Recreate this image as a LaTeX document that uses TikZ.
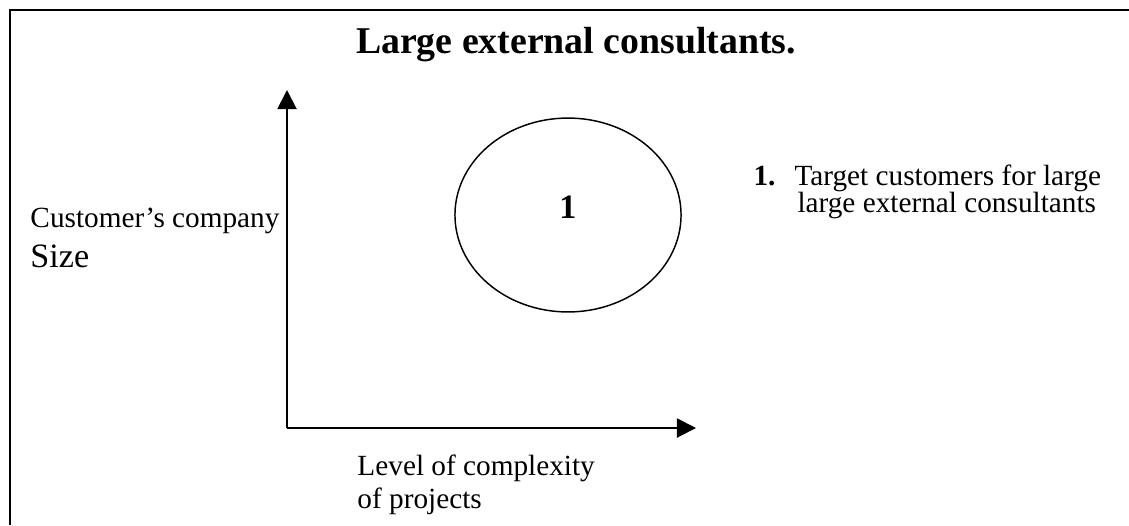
\documentclass[tikz,border=0pt]{standalone}
\usepackage{fontspec}
\setmainfont{Liberation Serif}
\usetikzlibrary{positioning,arrows.meta,shapes.geometric}

\begin{document}
\begin{tikzpicture}[
    x=0.41pt, y=-0.41pt,
    txt/.style={inner sep=0pt,anchor=base west,font=\fontsize{12}{14}\selectfont},
    axis/.style={-{Triangle[length=7.8pt,width=7.8pt]},line width=0.8pt},
    frame/.style={line width=0.8pt},
    zone/.style={draw,ellipse,line width=0.6pt,minimum width=92.7pt,minimum height=79.5pt,inner sep=0pt,text depth=6.5pt,font=\fontsize{14}{16}\selectfont\bfseries},
  ]
    \useasboundingbox (0,0) rectangle (1129,525);
    \draw[frame] (10,525) -- (10,10) -- (1129,10);
    \node[inner sep=0pt,anchor=base,font=\fontsize{15.5}{18}\selectfont\bfseries] (title) at (576,53) {Large external consultants.};

    \coordinate (origin) at (287,428);
    \coordinate (ytip) at (287,90);
    \coordinate (xtip) at (696,428);
    \draw[axis] (origin) -- (ytip);
    \draw[axis] (origin) -- (xtip);

    \node[zone] (target) at (568,215) {1};

    \node[txt] (ylabel) at (30,227) {Customer's company};
    \node[txt,font=\fontsize{14}{16}\selectfont] (ysize) at (30,267) {Size};
    \node[txt] (xlabel) at (357,475) {Level of complexity};
    \node[txt] (xlabel2) at (357,508) {of projects};

    \node[txt,font=\fontsize{12}{14}\selectfont\bfseries] (num) at (753,185) {1.};
    \node[txt] (item1) at (794,185) {Target customers for large};
    \node[txt] (item2) at (797,212) {large external consultants};
  \end{tikzpicture}
\end{document}
